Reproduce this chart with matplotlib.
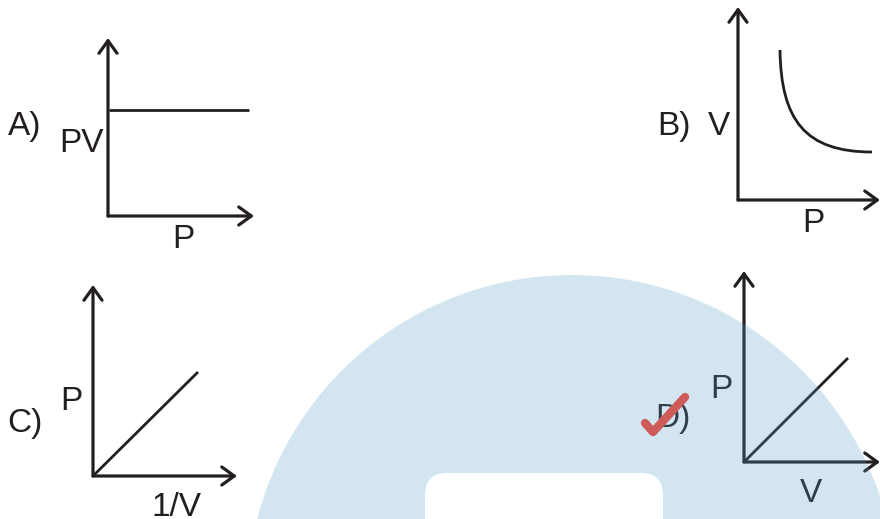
import matplotlib
matplotlib.use("Agg")
import matplotlib.pyplot as plt
from matplotlib.patches import Circle, FancyBboxPatch, PathPatch
from matplotlib.path import Path

plt.rcParams['font.family'] = ['Liberation Sans', 'DejaVu Sans']

INK = '#231f20'

# Panel layout (pixel positions on the 880x519 canvas): origin, y-axis tip, x-axis tip
origins = [(108, 216), (738, 200), (93, 476), (744, 462)]
y_tips = [(108, 38), (738, 7), (93, 285), (744, 271)]
x_tips = [(254, 216), (880, 200), (237, 476), (880, 462)]

# Curves of each panel
curve_A_x = [109, 249]
curve_A_y = [110, 110]
# Panel B: smooth decreasing curve (cubic Bezier: start, two controls, end)
curve_B_x = [780, 781, 805, 872]
curve_B_y = [50, 120, 152, 152]
curve_C_x = [93, 198]
curve_C_y = [476, 372]
curve_D_x = [744, 848]
curve_D_y = [462, 358]

# Text labels: (x, baseline y, text)
labels = [
    (8, 135, "A)"), (59, 152, "PV"), (172, 248, "P"),
    (657, 135, "B)"), (708, 135, "V"), (802, 232, "P"),
    (7, 432, "C)"), (60, 410, "P"), (151, 516, "1/V"),
    (655, 427, "D)"), (710, 398, "P"), (800, 502, "V"),
]

# Tick mark for the answer
check_x = [645, 653, 685]
check_y = [423, 432, 397]

fig = plt.figure(figsize=(8.8, 5.19), dpi=100)
ax = fig.add_axes([0, 0, 1, 1])
ax.set_xlim(0, 880)
ax.set_ylim(519, 0)
ax.axis('off')

for o, yt, xt in zip(origins, y_tips, x_tips):
    for tip in (yt, xt):
        ax.annotate("", xy=tip, xytext=o,
                    arrowprops=dict(arrowstyle="->,head_length=0.9,head_width=0.65",
                                    lw=2.3, color=INK, shrinkA=0, shrinkB=0,
                                    mutation_scale=10),
                    zorder=2)

for cx, cy in [(curve_A_x, curve_A_y), (curve_C_x, curve_C_y), (curve_D_x, curve_D_y)]:
    ax.plot(cx, cy, color=INK, lw=2.0, solid_capstyle='butt', zorder=2)

bez = Path(list(zip(curve_B_x, curve_B_y)),
           [Path.MOVETO, Path.CURVE4, Path.CURVE4, Path.CURVE4])
ax.add_patch(PathPatch(bez, facecolor='none', edgecolor=INK, lw=2.0, zorder=2))

for x, y, t in labels:
    ax.text(x, y, t, fontsize=24, color=INK, ha='left', va='baseline', zorder=2)

# Watermark
ax.add_patch(Circle((572, 600), 325, facecolor=(83/255, 155/255, 199/255),
                    alpha=0.25, edgecolor='none', zorder=5))
ax.add_patch(FancyBboxPatch((425, 473), 238, 80,
                            boxstyle="round,pad=0,rounding_size=22",
                            facecolor='white', edgecolor='none', zorder=6))

ax.plot(check_x, check_y, color='#cf5a5a', lw=6, solid_capstyle='round',
        solid_joinstyle='round', zorder=7)

fig.savefig("out.png", dpi=100)
